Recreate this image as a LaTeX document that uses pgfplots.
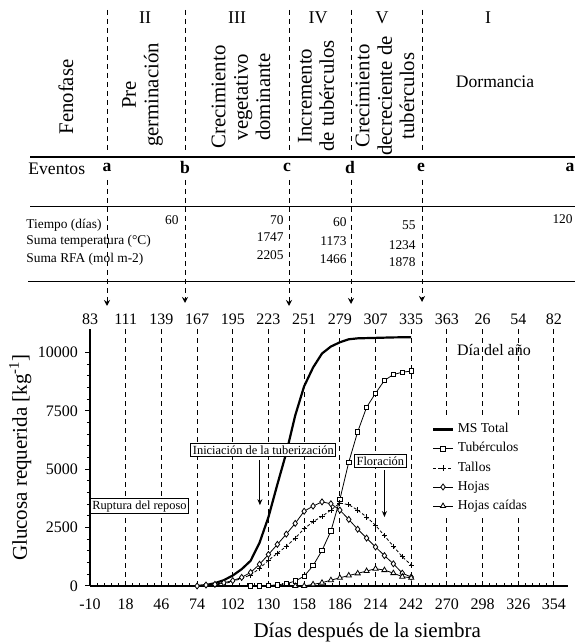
\documentclass[border=0pt]{standalone}
\usepackage{fontspec}
\setmainfont{Liberation Serif}
\usepackage{pgfplots}
\pgfplotsset{compat=1.18}
\usetikzlibrary{arrows.meta}
\begin{document}
\begin{tikzpicture}
\useasboundingbox (0pt,0pt) rectangle (287.5pt,321pt);
\begin{axis}[
  at={(45pt,28pt)}, anchor=south west, scale only axis,
  width=239pt, height=128.5pt,
  xmin=-10, xmax=365, ymin=0, ymax=11000,
  axis x line=bottom, axis y line=left,
  axis line style={-, line width=0.6pt},
  xtick={-10,18,...,354}, minor x tick num=4,
  ytick={0,2500,5000,7500,10000}, minor y tick num=4,
  tick align=outside, major tick length=2.5pt, minor tick length=1.6pt,
  every major x tick/.append style={yshift=2.5pt},
  every minor x tick/.append style={yshift=1.6pt},
  tick style={line width=0.5pt, black},
  scaled y ticks=false,
  /pgf/number format/1000 sep={},
  /pgf/number format/assume math mode=true,
  tick label style={font=\fontsize{8}{9}\selectfont},
  xticklabel style={yshift=-0.5pt},
  ylabel={Glucosa requerida [kg\textsuperscript{-1}]},
  ylabel style={font=\fontsize{10.5}{12}\selectfont, at={(axis description cs:-0.146,0.5)}, anchor=center},
  xlabel={Días después de la siembra},
  xlabel style={font=\fontsize{10.5}{12}\selectfont, at={(axis description cs:0.58,-0.179)}, anchor=center},
  clip=false,
  legend style={at={(0.711,0.658)}, anchor=north west, draw=none, fill=white,
    font=\fontsize{6.8}{8}\selectfont, row sep=-0.6pt, inner sep=1pt},
  legend cell align=left,
  legend image code/.code={\draw[mark repeat=2,mark phase=2,#1] plot coordinates {(0cm,0cm) (0.17cm,0cm) (0.34cm,0cm)};},
]
% vertical dashed reference lines
\foreach \xx in {18,46,74,102,130,158,186,214,242,270,298,326,354}{
  \edef\tmp{\noexpand\draw[line width=0.5pt, dash pattern=on 2.5pt off 2pt] (axis cs:\xx,0) -- (axis cs:\xx,11000);}
  \tmp
}
\addplot[black, line width=1.1pt] coordinates {
(74,0) (81,40) (88,120) (95,250) (102,450) (109,720) (116,1080) (123,1850) (130,2950)
(137,4350) (144,5700) (151,7300) (158,8550) (165,9350) (172,9950) (179,10250) (186,10430)
(193,10560) (200,10600) (214,10620) (228,10640) (242,10650)};
\addlegendentry{MS Total}
\addplot[black, line width=0.4pt, mark=square*, mark size=1.1pt, mark options={fill=white, solid}] coordinates {
(116,0) (123,5) (130,20) (137,50) (144,100) (151,210) (158,420) (165,870) (172,1520)
(179,2350) (186,3700) (193,5300) (200,6600) (207,7650) (214,8250) (221,8800) (228,9050)
(235,9150) (242,9200)};
\addlegendentry{Tubérculos}
\addplot[black, line width=0.4pt, dash pattern=on 1.5pt off 1pt, mark=+, mark size=1.3pt, mark options={solid}] coordinates {
(74,0) (81,20) (88,50) (95,100) (102,190) (109,330) (116,470) (123,750) (130,1100)
(137,1400) (144,1700) (151,2050) (158,2450) (165,2750) (172,2980) (179,3250) (186,3550)
(193,3480) (200,3250) (207,2950) (214,2600) (221,2150) (228,1700) (235,1250) (242,900)};
\addlegendentry{Tallos}
\addplot[black, line width=0.4pt, mark=diamond*, mark size=1.5pt, mark options={fill=white, solid}] coordinates {
(74,0) (81,40) (88,70) (95,140) (102,230) (109,370) (116,580) (123,930) (130,1350)
(137,1780) (144,2220) (151,2680) (158,3200) (165,3420) (172,3600) (179,3520) (186,3250)
(193,2850) (200,2430) (207,2050) (214,1670) (221,1300) (228,950) (235,550) (242,380)};
\addlegendentry{Hojas}
\addplot[black, line width=0.4pt, mark=triangle*, mark size=1.5pt, mark options={fill=white, solid}] coordinates {
(151,0) (158,0) (165,70) (172,140) (179,250) (186,350) (193,450) (200,540) (207,640)
(214,740) (221,680) (228,550) (235,400) (242,350)};
\addlegendentry{Hojas caídas}
% annotations
\node[draw, fill=white, inner sep=1pt, line width=0.5pt, font=\fontsize{6.2}{7}\selectfont] at (axis cs:28.8,3420) {Ruptura del reposo};
\node[draw, fill=white, inner sep=1pt, line width=0.5pt, font=\fontsize{6.2}{7}\selectfont] at (axis cs:126,5830) {Iniciación de la tuberización};
\node[draw, fill=white, inner sep=1pt, line width=0.5pt, font=\fontsize{6.2}{7}\selectfont] at (axis cs:217.8,5340) {Floración};
\draw[line width=0.5pt, -{Stealth[length=3pt,width=2.5pt]}] (axis cs:123.3,5380) -- (axis cs:123.3,3460);
\draw[line width=0.5pt, -{Stealth[length=3pt,width=2.5pt]}] (axis cs:221,4960) -- (axis cs:221,2950);
\node[font=\fontsize{8}{9}\selectfont] at (axis cs:306.9,10085) {Día del año};
\end{axis}
% top day-of-year labels
\begin{axis}[
  at={(45pt,28pt)}, anchor=south west, scale only axis,
  width=239pt, height=128.5pt,
  xmin=-10, xmax=365, ymin=0, ymax=11000,
  axis x line*=top, axis y line=none,
  x axis line style={draw=none},
  xtick={-10,18,...,354},
  xticklabels={83,111,139,167,195,223,251,279,307,335,363,26,54,82},
  major tick length=0pt, minor tick num=0,
  tick label style={font=\fontsize{8}{9}\selectfont},
  xticklabel style={yshift=-1.5pt},
]
\addplot[draw=none] coordinates {(0,0)};
\end{axis}
% phenophase table
\begin{scope}[x=1pt,y=1pt]
\draw[line width=0.8pt] (15,242.5) -- (287.5,242.5);
\draw[line width=0.8pt] (15,217.75) -- (287.5,217.75);
\draw[line width=0.8pt] (14,180.25) -- (287.5,180.25);
\foreach \xx/\yb in {53.5/168, 92.5/169.5, 144.5/168, 175.5/169, 211/170}{
  \draw[line width=0.5pt, dash pattern=on 2.5pt off 2pt] (\xx,316) -- (\xx,245);
  \draw[line width=0.5pt, dash pattern=on 2.5pt off 2pt, -{Stealth[length=3pt,width=3pt]}] (\xx,231) -- (\xx,\yb);
}
\begin{scope}[every node/.style={font=\fontsize{9}{10}\selectfont}]
\node at (72.5,312) {II};
\node at (118.5,312) {III};
\node at (159,312) {IV};
\node at (191,312) {V};
\node at (244,312) {I};
\end{scope}
\begin{scope}[every node/.style={rotate=90, align=center, font=\fontsize{10.4}{11.2}\selectfont}]
\node at (33,272.5) {Fenofase};
\node at (71.25,273.5) {Pre\\germinación};
\node at (120.5,272.5) {Crecimiento\\vegetativo\\dominante};
\node at (158,273) {Incremento\\de tubérculos};
\node at (192.5,273) {Crecimiento\\decreciente de\\tubérculos};
\end{scope}
\node[font=\fontsize{8.8}{10}\selectfont] at (247.5,280) {Dormancia};
\node[font=\fontsize{8.8}{10}\selectfont, anchor=west, inner sep=0pt] at (14,236.5) {Eventos};
\begin{scope}[every node/.style={font=\fontsize{8.8}{10}\selectfont\bfseries}]
\node at (53.5,237.5) {a};
\node at (92.5,237.5) {b};
\node at (143.5,237.5) {c};
\node at (175,237.5) {d};
\node at (210.5,237.5) {e};
\node at (285,237.5) {a};
\end{scope}
\begin{scope}[every node/.style={font=\fontsize{6.7}{8}\selectfont, inner sep=0pt}]
\node[anchor=west] at (13,208.5) {Tiempo (días)};
\node[anchor=west] at (13,200.5) {Suma temperatura (°C)};
\node[anchor=west] at (13,191.5) {Suma RFA (mol m-2)};
\node[anchor=east] at (89.5,211) {60};
\node[anchor=east] at (142,211) {70};
\node[anchor=east] at (173.5,210) {60};
\node[anchor=east] at (208,208.5) {55};
\node[anchor=east] at (286.5,211.5) {120};
\node[anchor=east] at (142,202.5) {1747};
\node[anchor=east] at (173.5,200.5) {1173};
\node[anchor=east] at (208,198.5) {1234};
\node[anchor=east] at (142,193.5) {2205};
\node[anchor=east] at (173.5,191.5) {1466};
\node[anchor=east] at (208,190) {1878};
\end{scope}
\end{scope}
\end{tikzpicture}
\end{document}
